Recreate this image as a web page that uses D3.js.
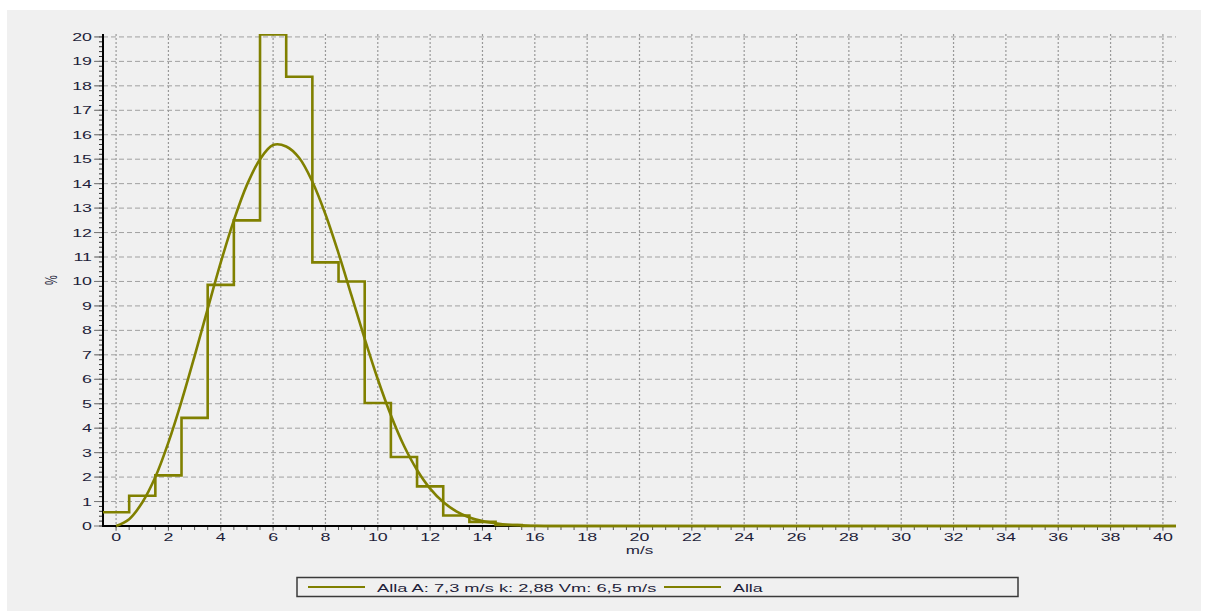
<!DOCTYPE html>
<html><head><meta charset="utf-8">
<script src="https://cdn.jsdelivr.net/npm/d3@7"></script>
<style>html,body{margin:0;padding:0;background:#fff;}svg{display:block;}</style>
</head><body>
<svg id="chart" width="1205" height="614"></svg>
<script>
// Histogram bins (bin centre in m/s) and frequency (%)
const binCenters = [0,1,2,3,4,5,6,7,8,9,10,11,12,13,14,15];
const binValues  = [0.56,1.24,2.07,4.42,9.86,12.5,20.1,18.37,10.78,10.0,5.03,2.82,1.62,0.43,0.17,0.04];
// Fitted distribution curve (m/s, %)
const curveSpeeds = [0,0.5,1,1.5,2,2.5,3,3.5,4,4.5,5,5.5,6,6.5,7,7.5,8,8.5,9,9.5,10,10.5,11,11.5,12,12.5,13,13.5,14,14.5,15,15.5,16,17,18,40.5];
const curveValues = [0,0.28,0.96,2.0,3.42,5.1,6.95,8.88,10.78,12.5,13.95,15.0,15.58,15.52,15.05,14.08,12.75,11.15,9.41,7.65,6.0,4.53,3.28,2.29,1.53,0.98,0.6,0.35,0.2,0.11,0.05,0.03,0.01,0.0,0,0];
// Axis ticks and labels
const xTicks = d3.range(0, 41, 2);
const yTicks = d3.range(0, 21, 1);
const xTitle = "m/s";
const yTitle = "%";
const legendLabels = ["Alla A: 7,3 m/s k: 2,88 Vm: 6,5 m/s", "Alla"];

const svg = d3.select("#chart");
const olive = "#808000";
const textCol = "#1e1e3a";
const sx = 1.55;

svg.append("rect").attr("x",7).attr("y",10).attr("width",1194).attr("height",601).attr("fill","#f0f0f0");

const x = d3.scaleLinear().domain([-0.5, 40.5]).range([103, 1176]);
const y = d3.scaleLinear().domain([0, 20.12]).range([526, 34]);

// grid
const g = svg.append("g");
g.selectAll(".hg").data(yTicks.filter(d=>d>0)).join("line")
  .attr("x1",95).attr("x2",1176).attr("y1",d=>y(d)).attr("y2",d=>y(d))
  .attr("stroke","#a0a0a0").attr("stroke-width",1).attr("stroke-dasharray","5,3");
g.selectAll(".vg").data(xTicks).join("line")
  .attr("x1",d=>x(d)).attr("x2",d=>x(d)).attr("y1",34).attr("y2",531)
  .attr("stroke","#999").attr("stroke-width",1.2).attr("stroke-dasharray","2,2");

// minor ticks
const yMinor = d3.range(0, 20.01, 0.2);
g.selectAll(".ym").data(yMinor).join("line")
  .attr("x1",99).attr("x2",103).attr("y1",d=>y(d)).attr("y2",d=>y(d))
  .attr("stroke","#333").attr("stroke-width",1);
g.selectAll(".ymaj").data(yTicks).join("line")
  .attr("x1",94).attr("x2",103).attr("y1",d=>y(d)).attr("y2",d=>y(d))
  .attr("stroke","#777").attr("stroke-width",1);
const xMinor = d3.range(0, 40.01, 0.5);
g.selectAll(".xm").data(xMinor).join("line")
  .attr("x1",d=>x(d)).attr("x2",d=>x(d)).attr("y1",526).attr("y2",530)
  .attr("stroke","#555").attr("stroke-width",1);

// axes lines
svg.append("line").attr("x1",103).attr("x2",103).attr("y1",34).attr("y2",527).attr("stroke","#000").attr("stroke-width",2);
svg.append("line").attr("x1",102).attr("x2",1176).attr("y1",526).attr("y2",526).attr("stroke","#000").attr("stroke-width",2);

// tick labels
svg.selectAll(".yl").data(yTicks).join("text")
  .attr("transform",d=>`translate(92,${y(d)+4}) scale(${sx},1)`)
  .attr("text-anchor","end").attr("font-family","Liberation Sans, Arial, sans-serif")
  .attr("font-size",11.5).attr("fill",textCol).text(d=>d);
svg.selectAll(".xl").data(xTicks).join("text")
  .attr("transform",d=>`translate(${x(d)},${541}) scale(${sx},1)`)
  .attr("text-anchor","middle").attr("font-family","Liberation Sans, Arial, sans-serif")
  .attr("font-size",11.5).attr("fill",textCol).text(d=>d);

svg.append("text").attr("transform",`translate(${x(20)},554) scale(${sx},1)`)
  .attr("text-anchor","middle").attr("font-family","Liberation Sans, Arial, sans-serif")
  .attr("font-size",11).attr("fill",textCol).text(xTitle);
svg.append("text").attr("transform",`translate(57,280) rotate(-90) scale(1,${sx})`)
  .attr("text-anchor","middle").attr("font-family","Liberation Sans, Arial, sans-serif")
  .attr("font-size",11).attr("fill",textCol).text(yTitle);

// clip
svg.append("clipPath").attr("id","clip").append("rect").attr("x",103).attr("y",34).attr("width",1073).attr("height",494);
const plot = svg.append("g").attr("clip-path","url(#clip)");

// histogram step outline
const stepPts = [];
binCenters.forEach((c,i)=>{ stepPts.push([c-0.5, binValues[i]]); stepPts.push([c+0.5, binValues[i]]); });
stepPts.push([binCenters[binCenters.length-1]+0.5, 0]);
stepPts.push([40.5, 0]);
const line = d3.line().x(d=>x(d[0])).y(d=>y(d[1]));
plot.append("path").attr("d",line(stepPts)).attr("fill","none").attr("stroke",olive).attr("stroke-width",2.6);

// curve
const cLine = d3.line().x(d=>x(d[0])).y(d=>y(d[1])).curve(d3.curveCatmullRom.alpha(0.5));
plot.append("path").attr("d",cLine(curveSpeeds.map((s,i)=>[s,curveValues[i]])))
  .attr("fill","none").attr("stroke",olive).attr("stroke-width",2.6);

// legend
svg.append("rect").attr("x",297).attr("y",577.5).attr("width",721).attr("height",19)
  .attr("fill","#f0f0f0").attr("stroke","#3a3a3a").attr("stroke-width",1.5);
const legItems = [{x1:308,x2:365,tx:377},{x1:664,x2:721,tx:733}];
legItems.forEach((it,i)=>{
  svg.append("line").attr("x1",it.x1).attr("x2",it.x2).attr("y1",587).attr("y2",587).attr("stroke",olive).attr("stroke-width",2);
  svg.append("text").attr("transform",`translate(${it.tx},591.5) scale(${i===0?1.59:sx},1)`)
    .attr("font-family","Liberation Sans, Arial, sans-serif").attr("font-size",11.5).attr("fill",textCol).text(legendLabels[i]);
});
</script>
</body></html>
